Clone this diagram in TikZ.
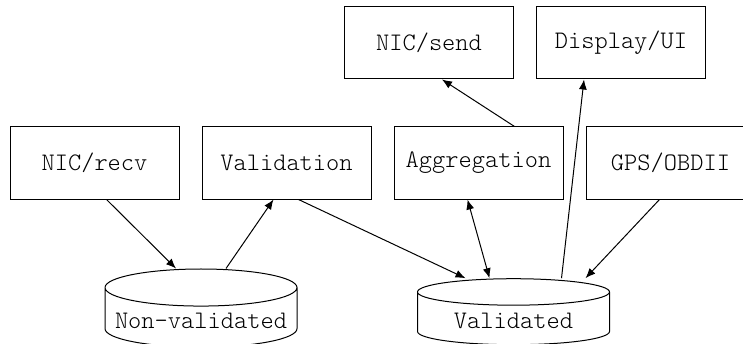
\documentclass[tikz,border=0pt]{standalone}
\usepackage{fontspec}
\setmonofont{Latin Modern Mono Light}
\usetikzlibrary{positioning,shapes.geometric,arrows.meta}
\begin{document}
\begin{tikzpicture}[node distance=11pt, >={Latex[length=5pt,width=4pt]}, line width=0.5pt,
    box/.style={draw, rectangle, minimum width=84.5pt, minimum height=36pt, font=\fontsize{12.6}{15}\selectfont\ttfamily},
    store/.style={draw, cylinder, shape border rotate=90, aspect=0.2, minimum width=96pt, minimum height=33pt, font=\fontsize{12.6}{15}\selectfont\ttfamily}]
    \useasboundingbox (0,0) rectangle (371.5pt,171.5pt);
    \node[box] (recv) at (47.25pt,90pt) {NIC/recv};
    \node[box] (valid) [right=of recv] {Validation};
    \node[box] (aggr) [right=of valid] {Aggregation};
    \node[box] (gps) [right=of aggr] {GPS/OBDII};
    \node[box] (send) at (214.5pt,150pt) {NIC/send};
    \node[box] (disp) [right=of send] {Display/UI};
    \node[store] (nonval) at (100.5pt,11pt) {Non-validated};
    \node[store] (validated) at (256.75pt,11pt) {Validated};
    \draw[->] ([xshift=6pt]recv.south) -- ([xshift=-12.5pt]nonval.north);
    \draw[->] ([xshift=12.5pt]nonval.north) -- ([xshift=-6.5pt]valid.south);
    \draw[->] ([xshift=6pt]valid.south) -- ([xshift=-24pt]validated.north);
    \draw[<->] ([xshift=-5.5pt]aggr.south) -- ([xshift=-12pt]validated.north);
    \draw[->] ([xshift=18pt]aggr.north) -- ([xshift=6.5pt]send.south);
    \draw[->] ([xshift=24pt]validated.north) -- ([xshift=-18.5pt]disp.south);
    \draw[->] ([xshift=-5.5pt]gps.south) -- ([xshift=36pt]validated.north);
\end{tikzpicture}
\end{document}
